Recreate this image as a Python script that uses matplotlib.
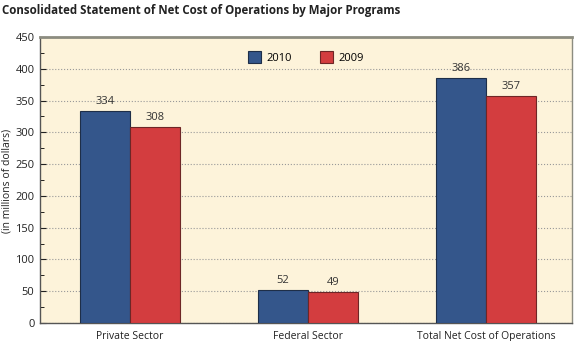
import numpy as np
import matplotlib.pyplot as plt
from matplotlib.ticker import MultipleLocator

# Dados
categorias = ['Private Sector', 'Federal Sector', 'Total Net Cost of Operations']
v2010 = [334, 52, 386]
v2009 = [308, 49, 357]

plt.rcParams['font.family'] = ['Open Sans', 'DejaVu Sans']

fig = plt.figure(figsize=(5.75, 3.41), dpi=100)
ax = fig.add_axes([0.0696, 0.0528, 0.9252, 0.8387])
ax.set_facecolor('#FDF3DA')

x = np.arange(len(categorias))
w = 0.28
b1 = ax.bar(x - w / 2, v2010, w, color='#34568B', edgecolor='#1E2E48', linewidth=0.8, label='2010', zorder=3)
b2 = ax.bar(x + w / 2, v2009, w, color='#D33D3F', edgecolor='#6E2626', linewidth=0.8, label='2009', zorder=3)

for bars in (b1, b2):
    for r in bars:
        ax.text(r.get_x() + r.get_width() / 2, r.get_height() + 6, f'{int(r.get_height())}',
                ha='center', va='bottom', fontsize=8, color='#333333')

ax.set_xlim(-0.506, 2.483)
ax.set_ylim(0, 450)
ax.yaxis.set_major_locator(MultipleLocator(50))
ax.yaxis.set_minor_locator(MultipleLocator(25))
ax.set_xticks(x)
ax.set_xticklabels(categorias)
ax.tick_params(axis='x', length=0, labelsize=7.5, pad=6, colors='#222222')
ax.tick_params(axis='y', which='major', length=4, labelsize=8, colors='#222222', direction='in', pad=4)
ax.tick_params(axis='y', which='minor', length=3, direction='in')
ax.grid(axis='y', which='major', linestyle=':', color='#999999', linewidth=0.8, zorder=0)

for s in ('left', 'bottom'):
    ax.spines[s].set_color('#555555')
    ax.spines[s].set_linewidth(1)
ax.spines['top'].set_color('#8C8C80')
ax.spines['top'].set_linewidth(2)
ax.spines['right'].set_color('#8C8C80')
ax.spines['right'].set_linewidth(1)

fig.text(0.013, 0.47, '(in millions of dollars)', fontsize=7.5, color='#222222',
         rotation=90, ha='center', va='center')

ax.legend(loc='upper center', bbox_to_anchor=(0.5, 0.985), ncol=2, frameon=False,
          fontsize=8, handlelength=1.2, handleheight=1.2, columnspacing=2.5, handletextpad=0.5)

fig.text(0.004, 0.97, 'Consolidated Statement of Net Cost of Operations by Major Programs',
         fontsize=8.3, fontweight='bold', ha='left', va='center', color='#222222')

fig.savefig('out.png', dpi=100)
